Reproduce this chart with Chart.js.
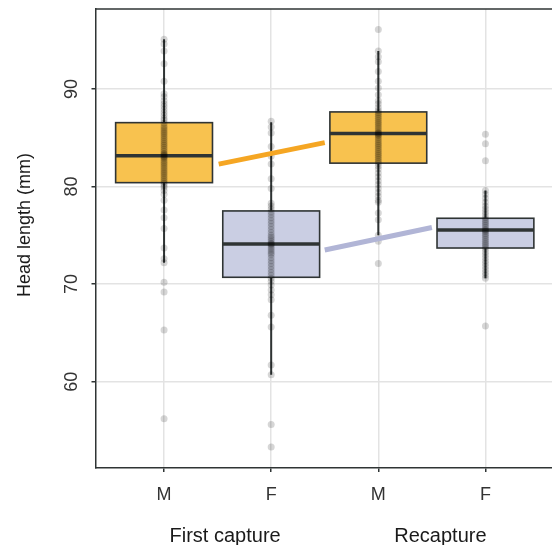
<!DOCTYPE html>
<html>
<head>
<meta charset="utf-8">
<script src="https://cdn.jsdelivr.net/npm/chart.js@4.4.1/dist/chart.umd.min.js"></script>
<style>
  html, body { margin: 0; padding: 0; background: #fff; overflow: hidden; }
  canvas { display: block; }
</style>
</head>
<body>
<!-- plot panel runs off the right edge, as in the original figure -->
<canvas id="headChart" width="556" height="545"></canvas>
<script>
const sexLabels = ['M', 'F', 'M', 'F'];
const phaseLabels = ['First capture', 'Recapture'];
const yTicks = [60, 70, 80, 90];

// box summary per group (M1, F1, M2, F2)
const whiskLow = [72.2, 60.7, 75.0, 70.6];
const boxQ1 = [80.4, 70.7, 82.4, 73.7];
const boxMedian = [83.15, 74.1, 85.45, 75.55];
const boxQ3 = [86.55, 77.5, 87.65, 76.75];
const whiskHigh = [95.1, 86.6, 93.9, 79.6];

// individual head lengths
const m1Points = [56.2, 65.3, 69.2, 70.2, 72.2, 72.6, 73.7, 75.7, 76.8, 77.6, 78.6, 79.2, 79.6, 79.9, 80.1, 80.3, 80.5,
  80.7, 80.9, 81.1, 81.3, 81.5, 81.7, 81.9, 82.1, 82.3, 82.5, 82.7, 82.9, 83.0, 83.1, 83.2, 83.3, 83.4,
  83.6, 83.8, 84.0, 84.2, 84.4, 84.6, 84.8, 85.0, 85.2, 85.4, 85.6, 85.8, 86.0, 86.2, 86.5, 86.8, 87.0,
  87.3, 87.6, 87.9, 88.2, 88.5, 88.8, 89.2, 89.5, 90.8, 92.6, 93.9, 94.6, 95.1];
const f1Points = [53.3, 55.6, 60.7, 61.7, 65.6, 66.8, 68.4, 68.9, 69.4, 69.9, 70.3, 70.6, 70.9, 71.2, 71.5, 71.8,
  72.1, 72.4, 72.7, 73.0, 73.2, 73.4, 73.6, 73.8, 74.0, 74.1, 74.2, 74.4, 74.6, 74.8, 75.0, 75.3, 75.6,
  75.9, 76.2, 76.5, 76.8, 77.1, 77.4, 77.7, 78.0, 78.3, 79.8, 80.8, 82.3, 83.1, 84.1, 85.5, 86.1, 86.7];
const m2Points = [72.1, 74.4, 75.0, 76.6, 77.3, 78.4, 78.6, 79.0, 79.4, 79.8, 80.2, 80.6, 81.0, 81.4, 81.8, 82.1,
  82.4, 82.6, 82.8, 83.0, 83.2, 83.4, 83.6, 83.8, 84.0, 84.2, 84.4, 84.6, 84.8, 85.0, 85.2, 85.3, 85.4,
  85.5, 85.6, 85.8, 86.0, 86.2, 86.4, 86.6, 86.8, 87.0, 87.2, 87.4, 87.6, 87.8, 88.1, 88.5, 88.8, 89.4,
  90.1, 90.8, 91.8, 92.8, 93.3, 93.9, 96.1];
const f2Points = [65.7, 70.6, 70.9, 71.2, 71.5, 71.8, 72.1, 72.4, 72.7, 73.0, 73.3, 73.6, 73.8, 74.0, 74.2, 74.4,
  74.6, 74.8, 75.0, 75.2, 75.4, 75.5, 75.6, 75.8, 76.0, 76.2, 76.4, 76.6, 76.8, 77.1, 77.4, 77.7, 78.0,
  78.4, 78.8, 79.2, 79.6, 82.65, 84.4, 85.35];

// change lines between captures
const maleTrendX = [0.51, 1.5];
const maleTrendY = [82.3, 84.5];
const femaleTrendX = [1.5, 2.5];
const femaleTrendY = [73.5, 75.8];

const boxFill = ['#F8C24F', '#CACEE3', '#F8C24F', '#CACEE3'];
const darkLine = '#2F3434';
const fontFamily = '"Liberation Sans", Arial, Helvetica, sans-serif';

function pointSet(values, pos) {
  return {
    type: 'scatter',
    data: values.map((v) => ({ x: pos, y: v })),
    backgroundColor: 'rgba(0, 0, 0, 0.16)',
    borderWidth: 0,
    pointRadius: 3.5,
    pointHoverRadius: 3.5,
  };
}

function trendSet(xs, ys, color) {
  return {
    type: 'line',
    data: xs.map((x, i) => ({ x: x, y: ys[i] })),
    borderColor: color,
    borderWidth: 5,
    pointRadius: 0,
    fill: false,
  };
}

const boxPlotDrawer = {
  id: 'boxPlotDrawer',
  beforeDatasetsDraw(chart) {
    const ctx = chart.ctx;
    const xs = chart.scales.x;
    const ys = chart.scales.y;
    const half = 0.452;
    ctx.save();
    for (let i = 0; i < sexLabels.length; i++) {
      const xc = xs.getPixelForValue(i);
      const xl = xs.getPixelForValue(i - half);
      const xr = xs.getPixelForValue(i + half);
      const yq1 = ys.getPixelForValue(boxQ1[i]);
      const yq3 = ys.getPixelForValue(boxQ3[i]);
      const ymed = ys.getPixelForValue(boxMedian[i]);

      // whiskers
      ctx.strokeStyle = darkLine;
      ctx.lineWidth = 2;
      ctx.beginPath();
      ctx.moveTo(xc, ys.getPixelForValue(whiskLow[i]));
      ctx.lineTo(xc, yq1);
      ctx.moveTo(xc, yq3);
      ctx.lineTo(xc, ys.getPixelForValue(whiskHigh[i]));
      ctx.stroke();

      // box
      ctx.fillStyle = boxFill[i];
      ctx.fillRect(xl, yq3, xr - xl, yq1 - yq3);
      ctx.lineWidth = 1.6;
      ctx.strokeRect(xl, yq3, xr - xl, yq1 - yq3);

      // median
      ctx.lineWidth = 3.5;
      ctx.beginPath();
      ctx.moveTo(xl, ymed);
      ctx.lineTo(xr, ymed);
      ctx.stroke();
    }
    ctx.restore();
  },
  afterDraw(chart) {
    const ctx = chart.ctx;
    const area = chart.chartArea;
    const xs = chart.scales.x;
    ctx.save();
    // top frame line
    ctx.strokeStyle = darkLine;
    ctx.lineWidth = 1.5;
    ctx.beginPath();
    ctx.moveTo(area.left, area.top);
    ctx.lineTo(area.right, area.top);
    ctx.stroke();

    // y axis title
    ctx.fillStyle = '#1a1a1a';
    ctx.font = '18px ' + fontFamily;
    ctx.textAlign = 'center';
    ctx.textBaseline = 'middle';
    ctx.translate(25, 225);
    ctx.rotate(-Math.PI / 2);
    ctx.fillText('Head length (mm)', 0, 0);
    ctx.setTransform(1, 0, 0, 1, 0, 0);

    // capture phase labels
    ctx.font = '20px ' + fontFamily;
    ctx.textBaseline = 'alphabetic';
    ctx.fillText(phaseLabels[0], xs.getPixelForValue(0.57), 541.5);
    ctx.fillText(phaseLabels[1], xs.getPixelForValue(2.58), 541.5);
    ctx.restore();
  },
};

const chart = new Chart(document.getElementById('headChart'), {
  type: 'scatter',
  data: {
    datasets: [
      trendSet(maleTrendX, maleTrendY, '#F5A623'),
      trendSet(femaleTrendX, femaleTrendY, '#B1B5D6'),
      pointSet(m1Points, 0),
      pointSet(f1Points, 1),
      pointSet(m2Points, 2),
      pointSet(f2Points, 3),
    ],
  },
  options: {
    responsive: false,
    animation: false,
    layout: { padding: { top: 9, right: 0, bottom: 0, left: 0 } },
    plugins: {
      legend: { display: false },
      title: { display: false },
      tooltip: { enabled: false },
    },
    scales: {
      x: {
        type: 'linear',
        min: -0.64,
        max: 3.626,
        afterBuildTicks(scale) {
          scale.ticks = sexLabels.map((s, i) => ({ value: i }));
        },
        afterFit(scale) {
          scale.height = 77;
          scale.paddingLeft = 0;
          scale.paddingRight = 0;
        },
        ticks: {
          autoSkip: false,
          maxRotation: 0,
          padding: 12,
          color: '#333',
          font: { size: 18, family: fontFamily },
          callback: (v, i) => sexLabels[i],
        },
        grid: {
          color: '#e3e3e3',
          lineWidth: 1.5,
          tickColor: darkLine,
          tickLength: 4,
          tickWidth: 1.5,
        },
        border: { color: darkLine, width: 1.5 },
      },
      y: {
        min: 51.15,
        max: 98.2,
        afterBuildTicks(scale) {
          scale.ticks = yTicks.map((v) => ({ value: v }));
        },
        afterFit(scale) {
          scale.width = 95.5;
          scale.paddingTop = 0;
          scale.paddingBottom = 0;
        },
        ticks: {
          minRotation: 90,
          maxRotation: 90,
          crossAlign: 'center',
          padding: 9,
          color: '#333',
          font: { size: 18, family: fontFamily },
        },
        grid: {
          color: '#e3e3e3',
          lineWidth: 1.5,
          tickColor: darkLine,
          tickLength: 4,
          tickWidth: 1.5,
        },
        border: { color: darkLine, width: 1.5 },
      },
    },
  },
  plugins: [boxPlotDrawer],
});
</script>
</body>
</html>
